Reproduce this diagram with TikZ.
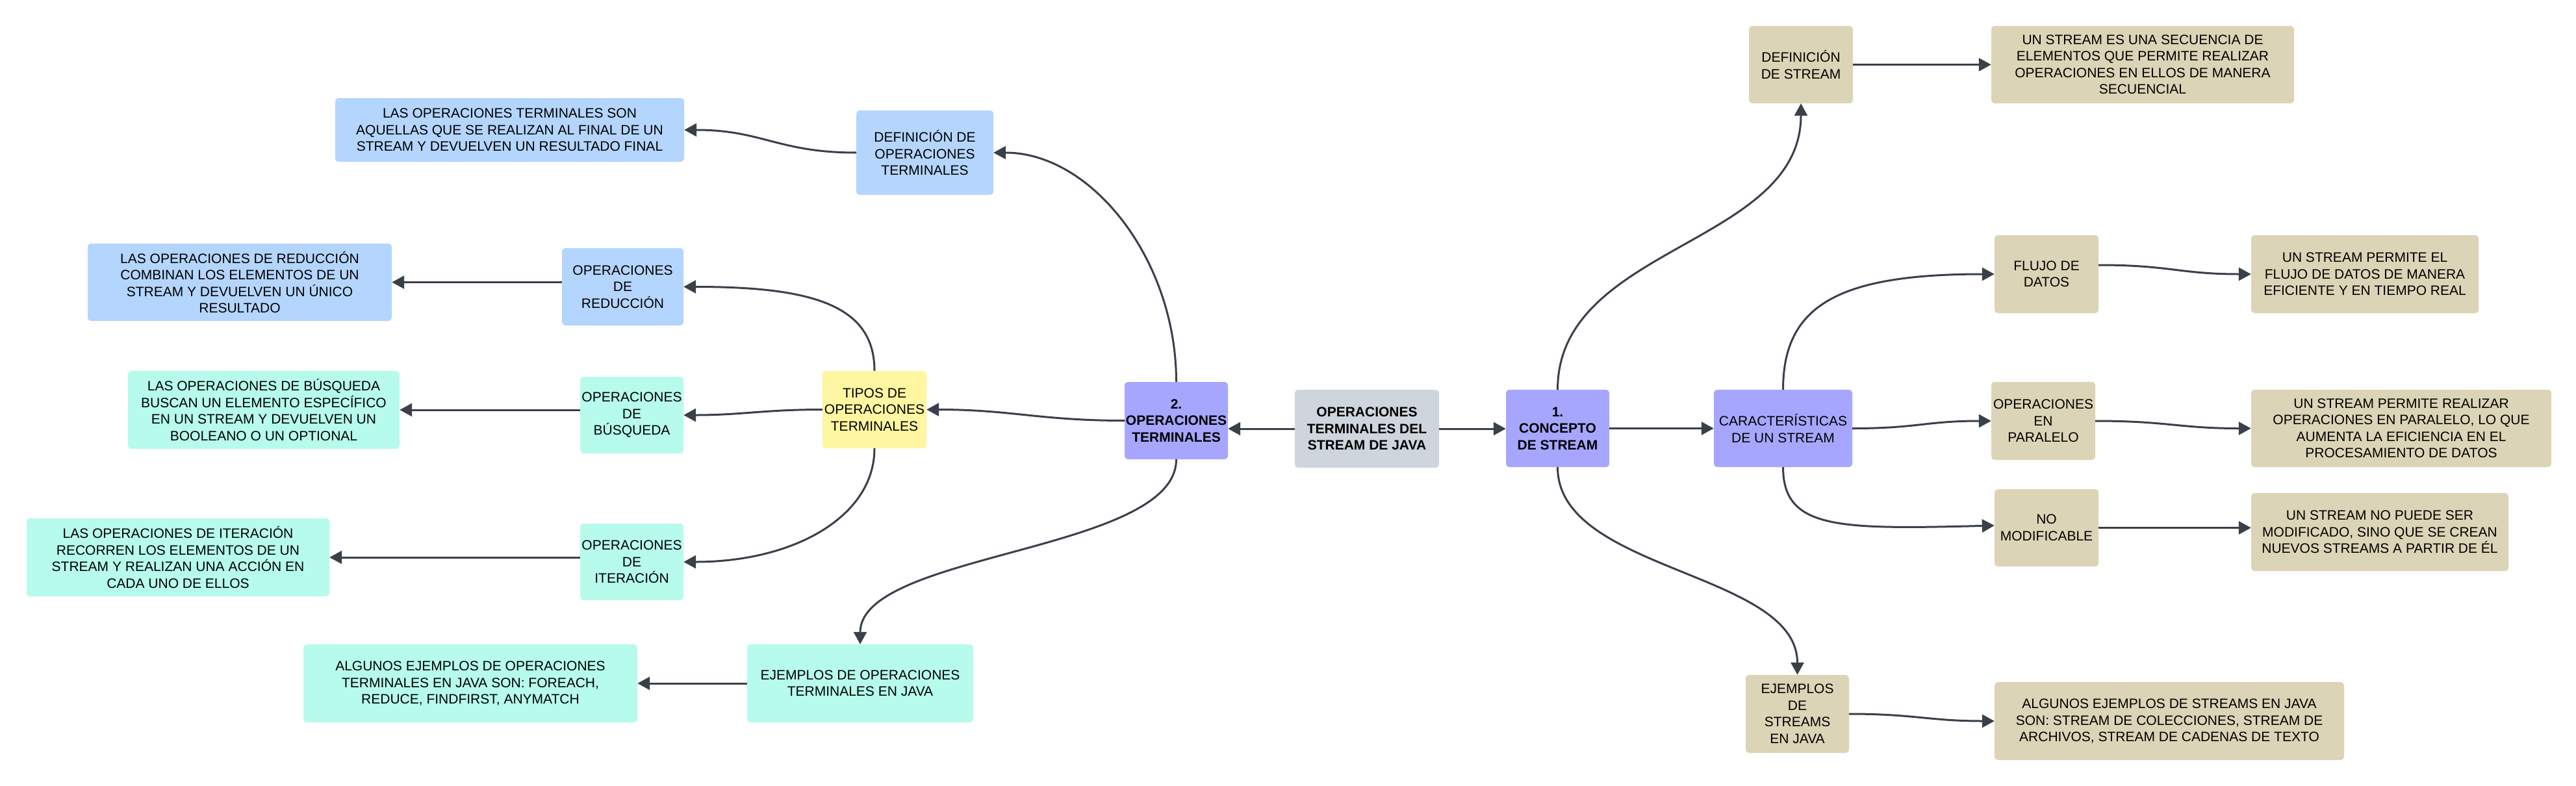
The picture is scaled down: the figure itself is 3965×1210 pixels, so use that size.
\documentclass[tikz,border=0pt]{standalone}
\usepackage{fontspec}
\setmainfont{Liberation Sans}
\usetikzlibrary{arrows.meta}
\definecolor{cblue}{RGB}{180,213,254}
\definecolor{cmint}{RGB}{182,251,236}
\definecolor{cyellow}{RGB}{255,246,161}
\definecolor{cpurple}{RGB}{166,166,255}
\definecolor{cgray}{RGB}{207,213,221}
\definecolor{ctan}{RGB}{220,212,182}
\definecolor{cline}{RGB}{58,64,74}
\newcommand\boxnode[7]{\node[box,#6,minimum width={#4-#2},minimum height={#5-#3}] (#1) at ({(#2+#4)/2},{(#3+#5)/2}) {#7};}
\begin{document}
\begin{tikzpicture}[x=1pt,y=-1pt,
  box/.style={rectangle,rounded corners=5pt,inner sep=0pt,align=center,text=black,
    font=\fontsize{21}{25.5}\selectfont},
  bluebox/.style={fill=cblue},
  mintbox/.style={fill=cmint},
  yellowbox/.style={fill=cyellow},
  purplebox/.style={fill=cpurple},
  graybox/.style={fill=cgray},
  tanbox/.style={fill=ctan},
  boldtext/.style={font=\fontsize{21}{25.5}\selectfont\bfseries},
  conn/.style={draw=cline,line width=3pt,-{Triangle[length=19pt,width=20pt]}}
]
\fill[white] (0,0) rectangle (3965,1210);
\useasboundingbox (0,0) rectangle (3965,1210);

% centre
\boxnode{root}{1993}{600}{2215}{720}{graybox,boldtext}{OPERACIONES\\TERMINALES DEL\\STREAM DE JAVA}
\boxnode{c1}{2318}{600}{2477}{719}{purplebox,boldtext}{1.\\CONCEPTO\\DE STREAM}
\boxnode{c2}{1731}{588}{1890}{707}{purplebox,boldtext}{2.\\OPERACIONES\\TERMINALES}

% left branch
\boxnode{tipos}{1266}{571}{1426}{690}{yellowbox}{TIPOS DE\\OPERACIONES\\TERMINALES}
\boxnode{defop}{1318}{170}{1529}{300}{bluebox}{DEFINICIÓN DE\\OPERACIONES\\TERMINALES}
\boxnode{defoptxt}{516}{151}{1053}{249}{bluebox}{LAS OPERACIONES TERMINALES SON\\AQUELLAS QUE SE REALIZAN AL FINAL DE UN\\STREAM Y DEVUELVEN UN RESULTADO FINAL}
\boxnode{red}{865}{382}{1052}{501}{bluebox}{OPERACIONES\\DE\\REDUCCIÓN}
\boxnode{redtxt}{135}{375}{603}{494}{bluebox}{LAS OPERACIONES DE REDUCCIÓN\\COMBINAN LOS ELEMENTOS DE UN\\STREAM Y DEVUELVEN UN ÚNICO\\RESULTADO}
\boxnode{bus}{893}{580}{1052}{698}{mintbox}{OPERACIONES\\DE\\BÚSQUEDA}
\boxnode{bustxt}{197}{571}{615}{691}{mintbox}{LAS OPERACIONES DE BÚSQUEDA\\BUSCAN UN ELEMENTO ESPECÍFICO\\EN UN STREAM Y DEVUELVEN UN\\BOOLEANO O UN OPTIONAL}
\boxnode{iter}{893}{806}{1052}{924}{mintbox}{OPERACIONES\\DE\\ITERACIÓN}
\boxnode{itertxt}{41}{798}{507}{918}{mintbox}{LAS OPERACIONES DE ITERACIÓN\\RECORREN LOS ELEMENTOS DE UN\\STREAM Y REALIZAN UNA ACCIÓN EN\\CADA UNO DE ELLOS}
\boxnode{ejop}{1150}{992}{1498}{1112}{mintbox}{EJEMPLOS DE OPERACIONES\\TERMINALES EN JAVA}
\boxnode{ejoptxt}{467}{992}{981}{1112}{mintbox}{ALGUNOS EJEMPLOS DE OPERACIONES\\TERMINALES EN JAVA SON: FOREACH,\\REDUCE, FINDFIRST, ANYMATCH}

% right branch
\boxnode{defst}{2692}{40}{2852}{159}{tanbox}{DEFINICIÓN\\DE STREAM}
\boxnode{defsttxt}{3065}{40}{3531}{159}{tanbox}{UN STREAM ES UNA SECUENCIA DE\\ELEMENTOS QUE PERMITE REALIZAR\\OPERACIONES EN ELLOS DE MANERA\\SECUENCIAL}
\boxnode{car}{2638}{600}{2851}{719}{purplebox}{CARACTERÍSTICAS\\DE UN STREAM}
\boxnode{flujo}{3070}{362}{3230}{482}{tanbox}{FLUJO DE\\DATOS}
\boxnode{flujotxt}{3465}{362}{3815}{482}{tanbox}{UN STREAM PERMITE EL\\FLUJO DE DATOS DE MANERA\\EFICIENTE Y EN TIEMPO REAL}
\boxnode{par}{3065}{588}{3225}{708}{tanbox}{OPERACIONES\\EN\\PARALELO}
\boxnode{partxt}{3465}{600}{3927}{719}{tanbox}{UN STREAM PERMITE REALIZAR\\OPERACIONES EN PARALELO, LO QUE\\AUMENTA LA EFICIENCIA EN EL\\PROCESAMIENTO DE DATOS}
\boxnode{nomod}{3070}{753}{3230}{872}{tanbox}{NO\\MODIFICABLE}
\boxnode{nomodtxt}{3465}{759}{3861}{879}{tanbox}{UN STREAM NO PUEDE SER\\MODIFICADO, SINO QUE SE CREAN\\NUEVOS STREAMS A PARTIR DE ÉL}
\boxnode{ejst}{2687}{1039}{2846}{1159}{tanbox}{EJEMPLOS\\DE\\STREAMS\\EN JAVA}
\boxnode{ejsttxt}{3070}{1050}{3608}{1170}{tanbox}{ALGUNOS EJEMPLOS DE STREAMS EN JAVA\\SON: STREAM DE COLECCIONES, STREAM DE\\ARCHIVOS, STREAM DE CADENAS DE TEXTO}

% connectors: centre
\draw[conn] (root.west) -- (root.west -| c2.east);
\draw[conn] (root.east) -- (root.east -| c1.west);

% connectors: left
\draw[conn] (c2.west) .. controls +(-130,0) and +(130,0) .. (tipos.east);
\draw[conn] (c2.north) .. controls +(0,-188) and +(151,0) .. (defop.east);
\draw[conn] (c2.south) .. controls +(0,143) and +(0,-142) .. (ejop.north);
\draw[conn] (defop.west) .. controls +(-120,0) and +(120,0) .. (defoptxt.east);
\draw[conn] (tipos.north) .. controls +(0,-101) and +(198,0) .. (red.east);
\draw[conn] (tipos.west) .. controls +(-90,0) and +(90,0) .. (bus.east);
\draw[conn] (tipos.south) .. controls +(0,105) and +(170,0) .. (iter.east);
\draw[conn] (red.west |- redtxt.east) -- (redtxt.east);
\draw[conn] (bus.west |- bustxt.east) -- (bustxt.east);
\draw[conn] (iter.west |- itertxt.east) -- (itertxt.east);
\draw[conn] (ejop.west) -- (ejoptxt.east);

% connectors: right
\draw[conn] (c1.east) -- (c1.east -| car.west);
\draw[conn] (c1.north) .. controls +(0,-222) and +(0,219) .. (defst.south);
\draw[conn] (c1.south) .. controls +(0,161) and +(0,-159) .. (ejst.north);
\draw[conn] (defst.east) -- (defst.east -| defsttxt.west);
\draw[conn] (car.north) .. controls +(0,-130) and +(-240,0) .. (flujo.west);
\draw[conn] (car.east) .. controls +(100,0) and +(-100,0) .. (par.west);
\draw[conn] (car.south) .. controls +(0,96) and +(-240,6) .. ([yshift=3.5pt]nomod.west);
\draw[conn] ([yshift=14pt]flujo.east) .. controls +(110,0) and +(-110,0) .. (flujotxt.west);
\draw[conn] (par.east) .. controls +(110,0) and +(-110,0) .. (partxt.west);
\draw[conn] (nomod.east) -- (nomod.east -| nomodtxt.west);
\draw[conn] (ejst.east) .. controls +(100,0) and +(-100,0) .. (ejsttxt.west);
\end{tikzpicture}
\end{document}
